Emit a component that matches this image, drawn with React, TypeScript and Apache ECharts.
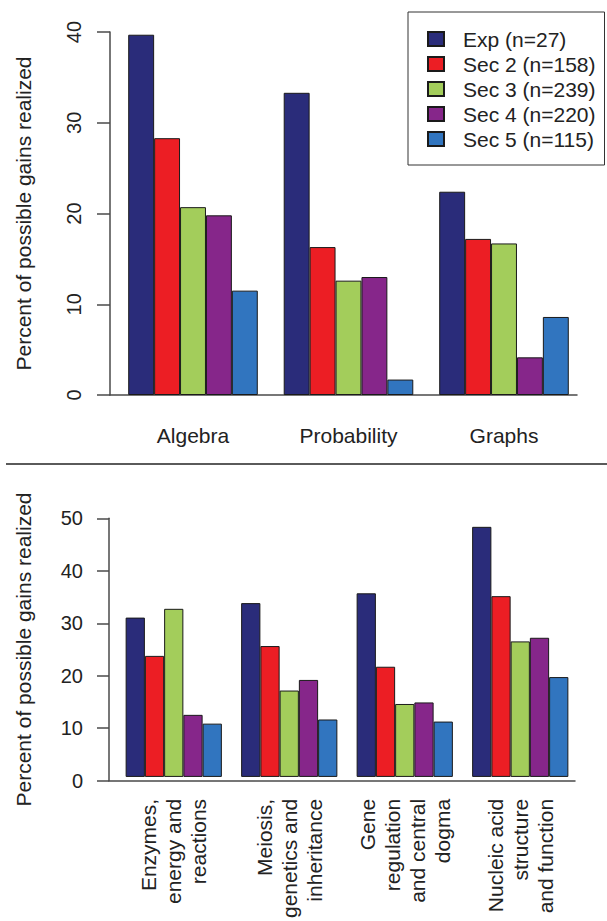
import React, { useEffect, useRef } from "react";
import * as echarts from "echarts";

const FONT = '"Liberation Sans", Arial, Helvetica, sans-serif';

const topCategories = ["Algebra", "Probability", "Graphs"];
const bottomCategories = [
  "Enzymes,\nenergy and\nreactions",
  "Meiosis,\ngenetics and\ninheritance",
  "Gene\nregulation\nand central\ndogma",
  "Nucleic acid\nstructure\nand function",
];
const seriesNames = ["Exp (n=27)", "Sec 2 (n=158)", "Sec 3 (n=239)", "Sec 4 (n=220)", "Sec 5 (n=115)"];
const seriesColors = ["#2a2c7a", "#ec1e24", "#a3cd5b", "#86268a", "#3175bf"];

const topExp = [39.7, 33.3, 22.4];
const topSec2 = [28.3, 16.3, 17.2];
const topSec3 = [20.7, 12.6, 16.7];
const topSec4 = [19.8, 13.0, 4.15];
const topSec5 = [11.5, 1.7, 8.6];

const bottomExp = [30.8, 33.6, 35.5, 48.35];
const bottomSec2 = [23.4, 25.3, 21.3, 34.95];
const bottomSec3 = [32.5, 16.7, 14.1, 26.2];
const bottomSec4 = [12.0, 18.75, 14.4, 26.9];
const bottomSec5 = [10.3, 11.1, 10.7, 19.3];

const topTicks = { min: 0, max: 40, interval: 10 };
const bottomTicks = { min: 0, max: 50, interval: 10 };

const yTitle = "Percent of possible gains realized";

const AXIS = "#4a4a4a";
const TEXT = "#222";

export default function App() {
  const ref = useRef<HTMLDivElement>(null);

  useEffect(() => {
    document.body.style.margin = "0";
    const chart = echarts.init(ref.current!, null, { renderer: "svg" });
    const topData = [topExp, topSec2, topSec3, topSec4, topSec5];
    const bottomData = [bottomExp, bottomSec2, bottomSec3, bottomSec4, bottomSec5];

    const barSeries = (xi: number, yi: number, data: number[][]) =>
      data.map((d, i) => ({
        type: "bar",
        name: seriesNames[i],
        xAxisIndex: xi,
        yAxisIndex: yi,
        data: d,
        barGap: "0%",
        barCategoryGap: "16.67%",
        itemStyle: { color: seriesColors[i], borderColor: "#1a1a1a", borderWidth: 1 },
        emphasis: { disabled: true },
      }));

    const lineAxis = (gridIndex: number) => ({
      gridIndex,
      type: "value",
      min: 0,
      max: 1,
      axisLine: { show: true, lineStyle: { color: AXIS, width: 1.5 } },
      axisTick: { show: false },
      axisLabel: { show: false },
      splitLine: { show: false },
    });

    const option: any = {
      animation: false,
      textStyle: { fontFamily: FONT },
      grid: [
        { left: 115.25, top: 32, width: 466.5, height: 363 },
        { left: 110, top: 32, width: 467, height: 363 },
        { left: 116, top: 518.3, width: 462, height: 262.4 },
        { left: 109, top: 518.3, width: 466, height: 262.4 },
      ],
      legend: {
        data: seriesNames,
        orient: "vertical",
        left: 408,
        top: 12,
        padding: [14.5, 9, 13.5, 19],
        itemWidth: 16,
        itemHeight: 14,
        itemGap: 0,
        icon: "rect",
        selectedMode: false,
        borderColor: "#333",
        borderWidth: 1,
        textStyle: { fontSize: 21, lineHeight: 25, color: TEXT, fontFamily: FONT, padding: [0, 0, 0, 14] },
      },
      xAxis: [
        {
          gridIndex: 0,
          type: "category",
          data: topCategories,
          axisLine: { show: false },
          axisTick: { show: false },
          axisLabel: { fontSize: 21, color: TEXT, margin: 30, interval: 0 },
        },
        lineAxis(1),
        {
          gridIndex: 2,
          type: "category",
          data: bottomCategories,
          axisLine: { show: false },
          axisTick: { show: false },
          axisLabel: { fontSize: 21, color: TEXT, rotate: 90, lineHeight: 25, margin: 22, interval: 0 },
        },
        lineAxis(3),
      ],
      yAxis: [
        { gridIndex: 0, type: "value", min: topTicks.min, max: topTicks.max, show: false },
        {
          gridIndex: 1,
          type: "value",
          min: topTicks.min,
          max: topTicks.max,
          interval: topTicks.interval,
          name: yTitle,
          nameLocation: "middle",
          nameGap: 76,
          nameTextStyle: { fontSize: 21, color: TEXT },
          axisLine: { show: true, lineStyle: { color: AXIS, width: 1.5 } },
          axisTick: { show: true, length: 13, lineStyle: { color: AXIS, width: 1.5 } },
          axisLabel: { rotate: 90, fontSize: 20, color: TEXT, margin: 26 },
          splitLine: { show: false },
        },
        { gridIndex: 2, type: "value", min: bottomTicks.min, max: bottomTicks.max, show: false },
        {
          gridIndex: 3,
          type: "value",
          min: bottomTicks.min,
          max: bottomTicks.max,
          interval: bottomTicks.interval,
          name: yTitle,
          nameLocation: "middle",
          nameGap: 75,
          nameTextStyle: { fontSize: 21, color: TEXT },
          axisLine: { show: true, lineStyle: { color: AXIS, width: 1.5 } },
          axisTick: { show: true, length: 12, lineStyle: { color: AXIS, width: 1.5 } },
          axisLabel: { fontSize: 20, color: TEXT, margin: 26 },
          splitLine: { show: false },
        },
      ],
      graphic: [
        { type: "rect", left: 6, top: 463, shape: { width: 601, height: 2 }, style: { fill: "#5a5a5a" } },
      ],
      series: [...barSeries(0, 0, topData), ...barSeries(2, 2, bottomData)],
    };
    chart.setOption(option);
    return () => chart.dispose();
  }, []);

  return (
    <div
      ref={ref}
      style={{ position: "fixed", left: 0, top: 0, width: 607, height: 921, background: "#fff" }}
    />
  );
}
